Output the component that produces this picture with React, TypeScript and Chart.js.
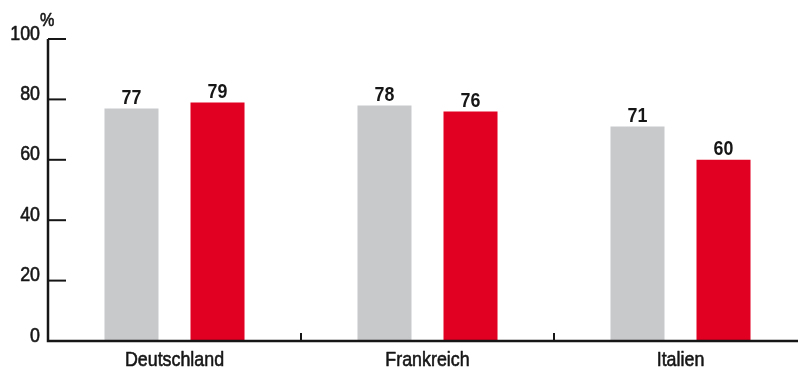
import React, { useEffect, useRef } from "react";
import { Chart, registerables } from "chart.js";

Chart.register(...registerables);

const categories = ["Deutschland", "Frankreich", "Italien"];
const seriesGrey = [77, 78, 71];
const seriesRed = [79, 76, 60];
const yTicks = [0, 20, 40, 60, 80, 100];
const unitLabel = "%";

const FONT = '"Liberation Sans", Arial, Helvetica, sans-serif';
const INK = "#161616";
// condensed look: text is squeezed horizontally
const SX = 0.85;

function drawText(
  ctx: CanvasRenderingContext2D,
  text: string,
  x: number,
  y: number,
  align: CanvasTextAlign,
  font: string,
  weightStroke = 0
) {
  ctx.save();
  ctx.translate(x, y);
  ctx.scale(SX, 1);
  ctx.font = font;
  ctx.textAlign = align;
  ctx.textBaseline = "alphabetic";
  ctx.fillText(text, 0, 0);
  if (weightStroke > 0) {
    // slightly heavier strokes for a medium weight
    ctx.lineWidth = weightStroke;
    ctx.lineJoin = "round";
    ctx.strokeText(text, 0, 0);
  }
  ctx.restore();
}

// Axis lines, inward tick marks, category separators, all labels and the unit
const decorations = {
  id: "decorations",
  afterDatasetsDraw(chart: any) {
    const ctx: CanvasRenderingContext2D = chart.ctx;
    const { left, right, bottom } = chart.chartArea;
    const ys = chart.scales.y;
    const xs = chart.scales.x;
    const top = ys.getPixelForValue(100);
    ctx.save();
    ctx.strokeStyle = INK;
    ctx.fillStyle = INK;
    ctx.lineCap = "butt";

    // axes
    ctx.lineWidth = 2.5;
    ctx.beginPath();
    ctx.moveTo(left, top);
    ctx.lineTo(left, bottom);
    ctx.moveTo(left - 1.25, bottom);
    ctx.lineTo(right, bottom);
    ctx.stroke();

    // y tick marks pointing into the plot, with their labels
    yTicks.forEach((v) => {
      const py = ys.getPixelForValue(v);
      ctx.lineWidth = 2;
      ctx.beginPath();
      ctx.moveTo(left, py);
      ctx.lineTo(left + 18, py);
      ctx.stroke();
      drawText(ctx, String(v), left - 8, py + 0.5, "right", `21px ${FONT}`, 0.6);
    });

    // separators between categories
    ctx.lineWidth = 2;
    for (let i = 1; i < categories.length; i++) {
      const px = (xs.getPixelForValue(i - 1) + xs.getPixelForValue(i)) / 2;
      ctx.beginPath();
      ctx.moveTo(px, bottom);
      ctx.lineTo(px, bottom - 8);
      ctx.stroke();
    }

    // category labels
    categories.forEach((c, i) => {
      drawText(ctx, c, xs.getPixelForValue(i), bottom + 25, "center", `21px ${FONT}`, 0.6);
    });

    // value labels
    chart.data.datasets.forEach((ds: any, di: number) => {
      chart.getDatasetMeta(di).data.forEach((el: any, i: number) => {
        drawText(ctx, String(ds.data[i]), el.x, el.y - 4.5, "center", `bold 21px ${FONT}`);
      });
    });

    // unit
    drawText(ctx, unitLabel, left - 8, top - 13, "left", `19px ${FONT}`, 0.6);
    ctx.restore();
  },
};

export default function App() {
  const ref = useRef<HTMLCanvasElement | null>(null);

  useEffect(() => {
    if (!ref.current) return;
    const chart = new Chart(ref.current, {
      type: "bar",
      data: {
        labels: categories,
        datasets: [
          {
            data: seriesGrey,
            backgroundColor: "#c8c9cb",
            categoryPercentage: 0.68,
            barPercentage: 0.628,
          },
          {
            data: seriesRed,
            backgroundColor: "#e10022",
            categoryPercentage: 0.68,
            barPercentage: 0.628,
          },
        ],
      },
      options: {
        responsive: false,
        animation: false,
        devicePixelRatio: 1,
        layout: { padding: { top: 39, right: 0, bottom: 0, left: 0 } },
        plugins: {
          legend: { display: false },
          tooltip: { enabled: false },
          title: { display: false },
        },
        scales: {
          x: {
            type: "category",
            grid: { display: false, drawTicks: false },
            border: { display: false },
            ticks: { display: false },
            afterFit: (s: any) => {
              s.height = 31;
            },
          },
          y: {
            min: 0,
            max: 100,
            grid: { display: false, drawTicks: false },
            border: { display: false },
            afterBuildTicks: (s: any) => {
              s.ticks = yTicks.map((v) => ({ value: v }));
            },
            ticks: { display: false },
            afterFit: (s: any) => {
              s.width = 48;
            },
          },
        },
      },
      plugins: [decorations],
    });
    return () => chart.destroy();
  }, []);

  return (
    <div
      style={{
        position: "fixed",
        left: 0,
        top: 0,
        width: 798,
        height: 372,
        overflow: "hidden",
        background: "#fff",
      }}
    >
      <canvas ref={ref} width={807} height={372} style={{ display: "block" }} />
    </div>
  );
}
